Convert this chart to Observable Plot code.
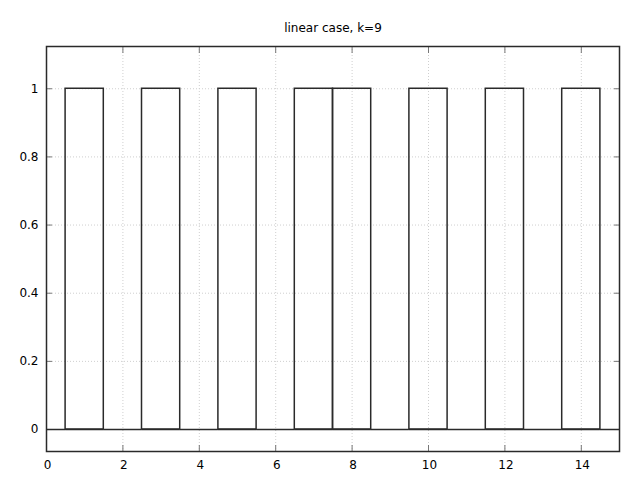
<!DOCTYPE html>
<html>
<head>
<meta charset="utf-8">
<script src="https://cdn.jsdelivr.net/npm/d3@7"></script>
<script src="https://cdn.jsdelivr.net/npm/@observablehq/plot@0.6"></script>
<style>
html, body { margin: 0; padding: 0; background: #fff; }
</style>
</head>
<body>
<div id="chart"></div>
<script>
const title = "linear case, k=9";
const xs = [0, 1, 2, 3, 4, 5, 6, 7, 8, 9, 10, 11, 12, 13, 14, 15];
const ys = [0, 1, 0, 1, 0, 1, 0, 1, 1, 0, 1, 0, 1, 0, 1, 0];
const xTicks = [0, 2, 4, 6, 8, 10, 12, 14];
const yTicks = [0, 0.2, 0.4, 0.6, 0.8, 1];
const boxWidth = 1;

const data = xs.map((x, i) => ({x, y: ys[i]}));
const fmt = d => String(d);
const ink = "#2a2a2a";
const tickInk = "#777";
const gridStyle = {stroke: "#cfcfcf", strokeOpacity: 1, strokeDasharray: "1,2", strokeWidth: 1};

const chart = Plot.plot({
  width: 640,
  height: 480,
  marginLeft: 46,
  marginRight: 21,
  marginTop: 46,
  marginBottom: 29,
  style: {fontFamily: "DejaVu Sans, sans-serif", fontSize: "12px", color: "#000", background: "#fff"},
  x: {domain: [0, 15], ticks: xTicks},
  y: {domain: [-0.0645, 1.124], ticks: yTicks},
  marks: [
    Plot.gridX(xTicks, gridStyle),
    Plot.gridY(yTicks, gridStyle),
    Plot.axisX(xTicks, {anchor: "bottom", tickSize: 0, tickPadding: 9, dx: 1, tickFormat: fmt, fill: "#000", label: null}),
    Plot.axisY(yTicks, {anchor: "left", tickSize: 0, tickPadding: 8, tickFormat: fmt, fill: "#000", label: null}),
    Plot.axisX(xTicks, {anchor: "bottom", tickSize: 6, dy: -6, text: null, stroke: tickInk, label: null}),
    Plot.axisX(xTicks, {anchor: "top", tickSize: 6, dy: 6, text: null, stroke: tickInk, label: null}),
    Plot.axisY(yTicks, {anchor: "left", tickSize: 6, dx: 6, text: null, stroke: tickInk, label: null}),
    Plot.axisY(yTicks, {anchor: "right", tickSize: 6, dx: -6, text: null, stroke: tickInk, label: null}),
    Plot.ruleY(data, {y: () => 0, x1: d => d.x - boxWidth / 2, x2: d => d.x + boxWidth / 2, stroke: ink, strokeWidth: 1.5, clip: true}),
    Plot.rect(data.filter(d => d.y !== 0), {
      x1: d => d.x - boxWidth / 2, x2: d => d.x + boxWidth / 2,
      y1: () => 0, y2: "y",
      fill: "none", stroke: ink, strokeWidth: 1.5, clip: true
    }),
    Plot.frame({stroke: ink, strokeWidth: 1.5}),
    Plot.text([title], {frameAnchor: "top", dy: -23, fill: "#000", fontSize: 12})
  ]
});
document.getElementById("chart").appendChild(chart);
</script>
</body>
</html>
